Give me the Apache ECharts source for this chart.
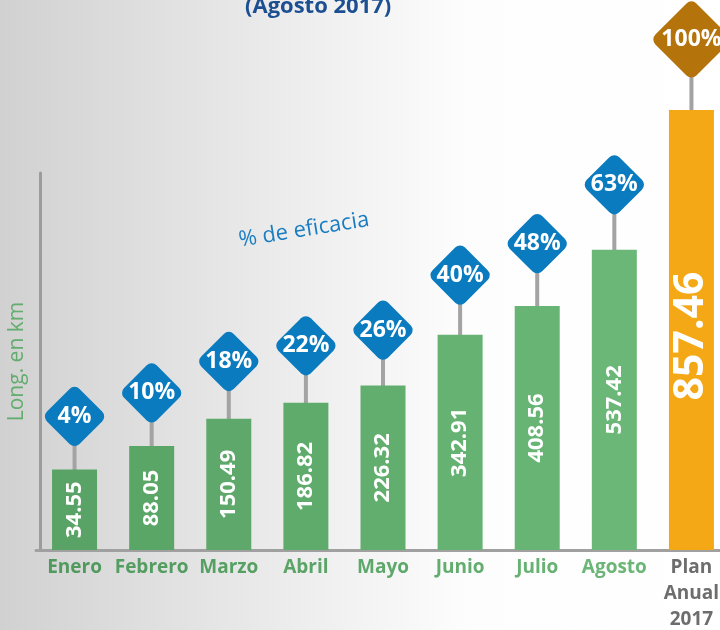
<!DOCTYPE html>
<html>
<head>
<meta charset="utf-8">
<script src="https://cdn.jsdelivr.net/npm/echarts@6/dist/echarts.min.js"></script>
<style>
html, body { margin: 0; padding: 0; }
#chart-avance {
    width: 720px;
    height: 630px;
    background: linear-gradient(to right, #d1d1d1 0%, #e4e4e4 28%, #f3f3f3 50%, #fdfdfd 65%, #ffffff 100%);
}
</style>
</head>
<body>
<div id="chart-avance"></div>
<script>
var meses = ['Enero', 'Febrero', 'Marzo', 'Abril', 'Mayo', 'Junio', 'Julio', 'Agosto', 'Plan\nAnual\n2017'];
var longitud_km = [34.55, 88.05, 150.49, 186.82, 226.32, 342.91, 408.56, 537.42, 857.46];
var eficacia = [4, 10, 18, 22, 26, 40, 48, 63, 100];

// los dos ejes ocultos (km y %), como en la lamina original
var kmMin = -150, kmMax = 713;
var pctMin = -30, pctMax = 66;

var barColors = ['#58a365', '#5aa667', '#5da86a', '#5fab6c', '#62ae6f', '#66b273', '#68b475', '#6bb778', '#f5a815'];
var labelColors = ['#509a5d', '#539d60', '#56a063', '#5aa467', '#5ea86b', '#63ad6f', '#67b173', '#6bb577', '#6d6d6d'];
var fuente = '"Open Sans", sans-serif';

var chart = echarts.init(document.getElementById('chart-avance'));

function barItem(params, api) {
    var i = api.value(0);
    var top = api.coord([i, api.value(1)]);
    var base = api.coord([i, kmMin]);
    var w = 45;
    var plan = i === longitud_km.length - 1;
    return {
        type: 'group',
        children: [
            {
                type: 'rect',
                shape: { x: top[0] - w / 2, y: top[1], width: w, height: base[1] - top[1] },
                style: { fill: barColors[i] }
            },
            {
                type: 'text',
                x: top[0],
                y: (top[1] + base[1]) / 2 + (plan ? 6 : 0),
                rotation: Math.PI / 2,
                style: {
                    text: api.value(1).toFixed(2),
                    fill: '#ffffff',
                    font: (plan ? 'bold 41px ' : 'bold 22px ') + fuente,
                    align: 'center',
                    verticalAlign: 'middle'
                }
            }
        ]
    };
}

function diamondItem(params, api) {
    var i = api.value(0);
    var c = api.coord([i, api.value(1)]);
    var foot = api.coord([i, pctMin]);
    var big = api.value(1) >= 100;
    var s = big ? 58 : 46;
    return {
        type: 'group',
        children: [
            {
                type: 'line',
                shape: { x1: c[0], y1: c[1], x2: foot[0], y2: foot[1] },
                style: { stroke: '#a3a3a3', lineWidth: 4 }
            },
            {
                type: 'rect',
                x: c[0],
                y: c[1],
                rotation: Math.PI / 4,
                shape: { x: -s / 2, y: -s / 2, width: s, height: s, r: 7 },
                style: { fill: big ? '#b5730b' : '#0a7bbf' }
            },
            {
                type: 'text',
                x: c[0],
                y: c[1],
                style: {
                    text: api.value(1) + '%',
                    fill: '#ffffff',
                    font: 'bold 23px ' + fuente,
                    align: 'center',
                    verticalAlign: 'middle'
                }
            }
        ]
    };
}

var option = {
    animation: false,
    title: {
        text: '(Agosto 2017)',
        left: 245,
        top: -4,
        padding: 0,
        textStyle: {
            color: '#1c4f91',
            fontSize: 22,
            fontWeight: 'bold',
            fontFamily: fuente
        }
    },
    graphic: [
        {
            type: 'text',
            x: 304,
            y: 230,
            rotation: 0.16,
            style: {
                text: '% de eficacia',
                fill: '#1a7dc2',
                font: '22px ' + fuente,
                align: 'center',
                verticalAlign: 'middle'
            }
        }
    ],
    grid: {
        left: 36,
        right: -10,
        top: 173,
        bottom: 80,
        outerBoundsMode: 'none'
    },
    xAxis: {
        type: 'category',
        data: meses.map(function (m, i) {
            return { value: m, textStyle: { color: labelColors[i] } };
        }),
        axisLine: { onZero: false, lineStyle: { color: '#a0a0a0', width: 3 } },
        axisTick: { show: false },
        axisLabel: {
            interval: 0,
            margin: 5,
            fontFamily: fuente,
            fontWeight: 'bold',
            fontSize: 19,
            lineHeight: 26
        }
    },
    yAxis: [
        {
            type: 'value',
            min: kmMin,
            max: kmMax,
            offset: -4,
            name: 'Long. en km',
            nameLocation: 'middle',
            nameGap: 12,
            nameTextStyle: { color: '#63ad6f', fontSize: 21, fontFamily: fuente },
            axisLine: { show: true, lineStyle: { color: '#9c9c9c', width: 3 } },
            axisTick: { show: false },
            axisLabel: { show: false },
            splitLine: { show: false }
        },
        {
            type: 'value',
            min: pctMin,
            max: pctMax,
            show: false,
            splitLine: { show: false }
        }
    ],
    series: [
        {
            name: '% de eficacia',
            type: 'custom',
            yAxisIndex: 1,
            z: 2,
            renderItem: diamondItem,
            data: eficacia.map(function (p, i) { return [i, p]; })
        },
        {
            name: 'Long. en km',
            type: 'custom',
            yAxisIndex: 0,
            z: 3,
            renderItem: barItem,
            data: longitud_km.map(function (v, i) { return [i, v]; })
        }
    ]
};

chart.setOption(option);
</script>
</body>
</html>
